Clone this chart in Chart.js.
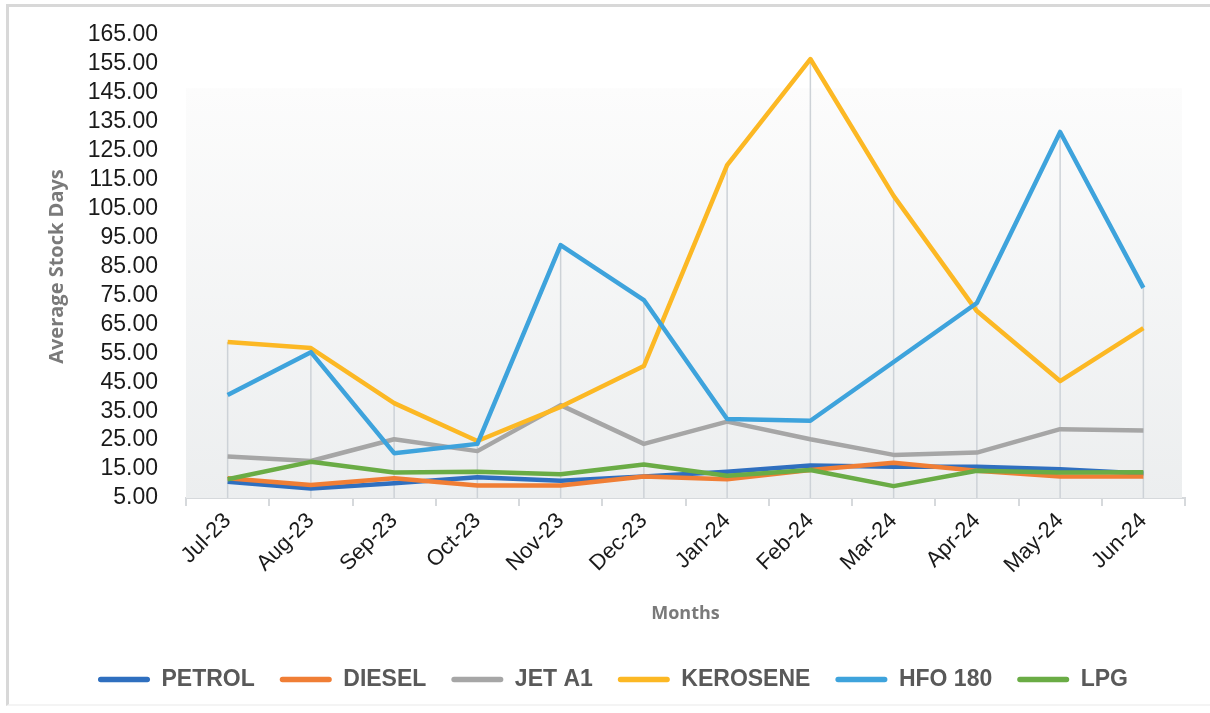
<!DOCTYPE html>
<html>
<head>
<meta charset="utf-8">
<title>Average Stock Days</title>
<script src="https://cdn.jsdelivr.net/npm/chart.js@4/dist/chart.umd.min.js"></script>
<style>
  html, body { margin: 0; padding: 0; background: #fff; }
  #wrap { position: relative; width: 1210px; height: 713px; overflow: hidden; }
  #frame { position: absolute; left: 6px; top: 4px; width: 1230px; height: 702px; border-left: 3px solid #d8d8d8; border-top: 3px solid #d8d8d8; border-bottom: 2px solid #f4f4f4; box-sizing: border-box; }
  #myChart { position: absolute; left: 0; top: 0; }
</style>
</head>
<body>
<div id="wrap">
  <div id="frame"></div>
  <canvas id="myChart" width="1210" height="713"></canvas>
</div>
<script>
// ========================= data =========================
var months = ['Jul-23', 'Aug-23', 'Sep-23', 'Oct-23', 'Nov-23', 'Dec-23', 'Jan-24', 'Feb-24', 'Mar-24', 'Apr-24', 'May-24', 'Jun-24'];

var petrol   = [10.6, 8.3, 10.1, 12.2, 11.0, 12.4, 14.1, 16.2, 15.8, 15.8, 14.9, 13.5];
var diesel   = [11.8, 9.5, 11.8, 9.3, 9.3, 12.4, 11.5, 14.7, 17.2, 14.4, 12.4, 12.4];
var jetA1    = [19.3, 17.8, 25.3, 21.2, 37.1, 23.7, 31.4, 25.3, 19.9, 20.7, 28.8, 28.3];
var kerosene = [58.9, 56.8, 37.8, 24.7, 36.5, 50.6, 120.0, 156.7, 109.4, 69.6, 45.4, 63.7];
var hfo180   = [40.6, 55.4, 20.5, 23.7, 92.4, 73.4, 32.3, 31.7, 52.0, 72.4, 131.5, 77.6];
var lpg      = [11.5, 17.5, 13.8, 14.1, 13.2, 16.6, 12.7, 14.7, 9.1, 14.4, 13.8, 13.9];

var yMin = 5, yMax = 165, yStep = 10;

var seriesNames  = ['PETROL', 'DIESEL', 'JET A1', 'KEROSENE', 'HFO 180', 'LPG'];
var seriesData   = [petrol, diesel, jetA1, kerosene, hfo180, lpg];
var seriesColors = ['#2f6fbf', '#f07e35', '#a6a6a6', '#fcb824', '#3ea3dc', '#6aac45'];

// ========================= plugins =========================
// grey gradient behind the plot + drop lines from the highest point down to the axis
var plotBack = {
  id: 'plotBack',
  beforeDatasetsDraw: function(chart) {
    var c = chart.ctx, a = chart.chartArea;
    var x = chart.scales.x, y = chart.scales.y;
    var top = a.top + (a.bottom - a.top) * 0.115;
    var g = c.createLinearGradient(0, top, 0, a.bottom);
    g.addColorStop(0, '#fcfcfc');
    g.addColorStop(1, '#eceeef');
    c.save();
    c.fillStyle = g;
    c.fillRect(a.left, top, a.right - a.left - 3, a.bottom - top);

    c.strokeStyle = '#cdd2d7';
    c.lineWidth = 1.5;
    for (var i = 0; i < months.length; i++) {
      var hi = yMin;
      seriesData.forEach(function(s) { if (s[i] > hi) hi = s[i]; });
      var px = x.getPixelForValue(i);
      c.beginPath();
      c.moveTo(px, y.getPixelForValue(hi));
      c.lineTo(px, a.bottom);
      c.stroke();
    }
    c.restore();
  }
};

// ========================= chart =========================
var datasets = seriesNames.map(function(name, i) {
  return {
    label: name,
    data: seriesData[i],
    borderColor: seriesColors[i],
    backgroundColor: seriesColors[i],
    borderWidth: 4.5,
    borderJoinStyle: 'round',
    pointRadius: 0,
    tension: 0,
    order: seriesNames.length - i
  };
});

var ctx = document.getElementById('myChart').getContext('2d');
var chart = new Chart(ctx, {
  type: 'line',
  data: { labels: months, datasets: datasets },
  plugins: [plotBack],
  options: {
    responsive: false,
    animation: false,
    layout: { padding: { top: 35, right: 25, bottom: 12, left: 41 } },
    plugins: {
      tooltip: { enabled: false },
      legend: {
        position: 'bottom',
        labels: {
          boxWidth: 52,
          boxHeight: 5.5,
          useBorderRadius: true,
          borderRadius: 2.7,
          padding: 25,
          color: '#595959',
          font: { family: 'Liberation Sans', size: 23, weight: 'bold' },
          sort: function(a, b) { return a.datasetIndex - b.datasetIndex; },
          generateLabels: function(ch) {
            var items = Chart.defaults.plugins.legend.labels.generateLabels(ch);
            items.forEach(function(it) { it.lineWidth = 0; });
            return items;
          }
        }
      }
    },
    scales: {
      x: {
        offset: true,
        afterFit: function(s) { s.height = 145; },
        border: { display: true, color: '#d6d9dc', width: 2 },
        grid: { offset: true, drawOnChartArea: false, drawTicks: true, tickLength: 8, color: '#d6d9dc', lineWidth: 2 },
        ticks: {
          maxRotation: 45, minRotation: 45, padding: 2,
          color: '#1a1a1a',
          font: { family: 'Liberation Sans', size: 22 }
        },
        title: {
          display: true, text: 'Months', color: '#7a7a7a',
          padding: { top: 0, bottom: 18 },
          font: { family: 'Open Sans', size: 18, weight: 'bold' }
        }
      },
      y: {
        min: yMin, max: yMax,
        afterFit: function(s) { s.width = 145; s.paddingTop = 0; s.paddingBottom = 0; },
        border: { display: false },
        grid: { display: false, drawTicks: false },
        ticks: {
          stepSize: yStep, padding: 28, autoSkip: false,
          color: '#1a1a1a',
          font: { family: 'Liberation Sans', size: 23 },
          callback: function(v) { return v.toFixed(2); }
        },
        title: {
          display: true, text: 'Average Stock Days', color: '#7a7a7a',
          padding: { top: 4, bottom: 0 },
          font: { family: 'Open Sans', size: 20, weight: 'bold' }
        }
      }
    }
  }
});
</script>
</body>
</html>
